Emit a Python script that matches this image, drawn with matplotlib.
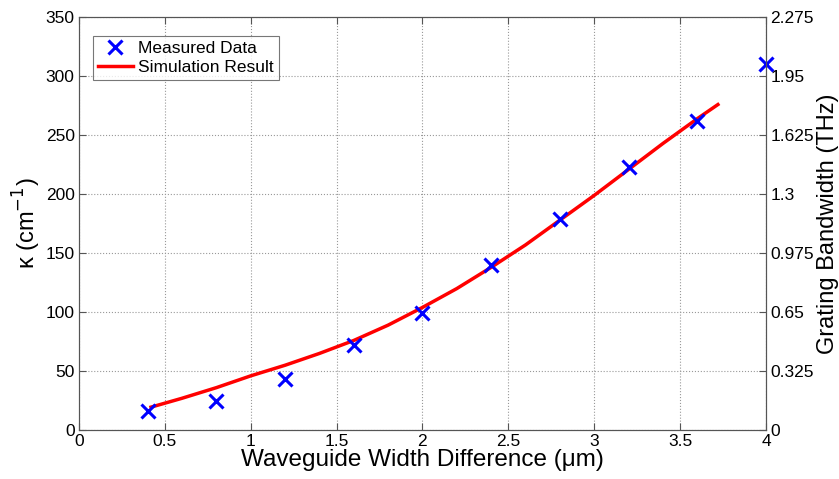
import matplotlib
matplotlib.use('Agg')
import matplotlib.pyplot as plt

plt.rcParams['font.family'] = ['Liberation Sans', 'DejaVu Sans']

# measured coupling coefficient
meas_x = [0.4, 0.8, 1.2, 1.6, 2.0, 2.4, 2.8, 3.2, 3.6, 4.0]
meas_k = [16, 25, 43, 72, 99, 140, 179, 223, 262, 310]

# simulation curve
sim_x = [0.42, 0.6, 0.8, 1.0, 1.2, 1.4, 1.6, 1.8, 2.0, 2.2, 2.4, 2.6,
         2.8, 3.0, 3.2, 3.4, 3.6, 3.72]
sim_k = [19.5, 27, 36, 46, 55, 65, 76, 89, 104, 120, 138, 157,
         178, 199, 221, 243, 264, 276]

x_ticks  = [0, 0.5, 1, 1.5, 2, 2.5, 3, 3.5, 4]
x_labels = ['0', '0.5', '1', '1.5', '2', '2.5', '3', '3.5', '4']
k_ticks  = [0, 50, 100, 150, 200, 250, 300, 350]
bw_ticks  = [0, 0.325, 0.65, 0.975, 1.3, 1.625, 1.95, 2.275]
bw_labels = ['0', '0.325', '0.65', '0.975', '1.3', '1.625', '1.95', '2.275']

EDGE = '#555555'

fig = plt.figure(figsize=(8.39, 4.79), dpi=100)
ax = fig.add_axes([0.094, 0.102, 0.819, 0.862])

ax.plot(meas_x, meas_k, 'x', color='#0000ff', ms=10, mew=2.2,
        label='Measured Data', clip_on=False, zorder=5)
ax.plot(sim_x, sim_k, '-', color='#ff0000', lw=2.5, label='Simulation Result')

ax.set_xlim(0, 4)
ax.set_ylim(0, 350)
ax.set_xticks(x_ticks)
ax.set_xticklabels(x_labels)
ax.set_yticks(k_ticks)
ax.grid(True, ls=':', color='#999999', lw=0.8)
ax.tick_params(direction='in', length=5, labelsize=12.5, color=EDGE,
               top=True, pad=3)
for s in ax.spines.values():
    s.set_color(EDGE)

ax.set_xlabel('Waveguide Width Difference (μm)', fontsize=17.5, labelpad=0)
ax.set_ylabel('κ (cm$^{-1}$)', fontsize=17, labelpad=2)

ax2 = ax.twinx()
ax2.set_ylim(0, 2.275)
ax2.set_yticks(bw_ticks)
ax2.set_yticklabels(bw_labels)
ax2.tick_params(direction='in', length=5, labelsize=12.5, color=EDGE, pad=3)
for s in ax2.spines.values():
    s.set_color(EDGE)
ax2.set_ylabel('Grating Bandwidth (THz)', fontsize=17, labelpad=2)

leg = ax.legend(loc='upper left', bbox_to_anchor=(0.02, 0.955), fontsize=12.5,
                frameon=True, fancybox=False, borderpad=0.3,
                handlelength=2.0, handletextpad=0.3, labelspacing=0.2,
                borderaxespad=0)
leg.get_frame().set_edgecolor(EDGE)
leg.get_frame().set_linewidth(0.8)

fig.savefig('out.png', dpi=100)
